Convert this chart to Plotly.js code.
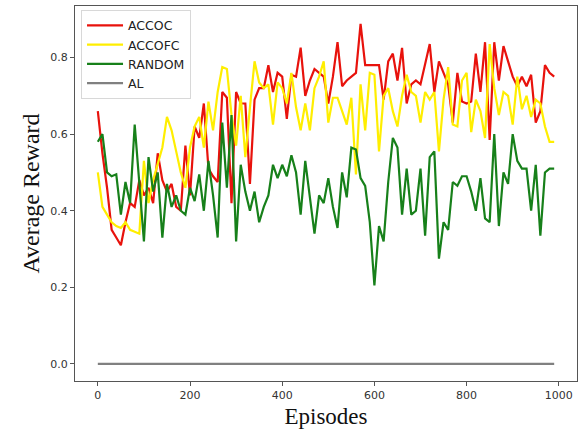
<!DOCTYPE html>
<html>
<head>
<meta charset="utf-8">
<script src="https://cdn.plot.ly/plotly-3.0.1.min.js"></script>
<style>html,body{margin:0;padding:0;background:#fff;}#chart{width:578px;height:433px;}</style>
</head>
<body>
<div id="chart"></div>
<script>
const episodes = Array.from({length: 100}, (_, i) => i * 10);

const accoc = [0.66,0.55,0.46,0.35,0.33,0.31,0.37,0.42,0.41,0.48,
0.44,0.46,0.42,0.55,0.48,0.45,0.47,0.41,0.40,0.57,
0.44,0.62,0.59,0.68,0.51,0.49,0.475,0.71,0.695,0.42,
0.71,0.68,0.68,0.47,0.69,0.72,0.72,0.78,0.71,0.76,
0.75,0.64,0.755,0.75,0.826,0.70,0.74,0.77,0.76,0.75,
0.68,0.75,0.84,0.725,0.74,0.75,0.76,0.888,0.78,0.78,
0.78,0.78,0.69,0.79,0.81,0.74,0.825,0.68,0.73,0.74,
0.73,0.78,0.835,0.71,0.79,0.76,0.73,0.63,0.76,0.685,
0.68,0.685,0.81,0.71,0.84,0.585,0.84,0.74,0.83,0.79,
0.75,0.725,0.75,0.725,0.755,0.63,0.66,0.78,0.76,0.75];

const accofc = [0.50,0.41,0.39,0.37,0.36,0.355,0.37,0.35,0.345,0.34,
0.53,0.42,0.48,0.52,0.565,0.645,0.61,0.555,0.50,0.46,
0.565,0.62,0.645,0.565,0.685,0.61,0.71,0.775,0.77,0.65,
0.57,0.70,0.54,0.67,0.79,0.735,0.72,0.73,0.625,0.735,
0.72,0.68,0.76,0.67,0.61,0.68,0.61,0.72,0.75,0.79,
0.63,0.695,0.695,0.66,0.625,0.695,0.495,0.73,0.61,0.76,
0.755,0.555,0.70,0.72,0.66,0.62,0.70,0.755,0.71,0.70,
0.63,0.71,0.69,0.71,0.555,0.69,0.775,0.625,0.62,0.74,
0.76,0.605,0.69,0.66,0.59,0.835,0.72,0.65,0.71,0.70,
0.625,0.75,0.665,0.70,0.645,0.69,0.68,0.62,0.58,0.58];

const random = [0.58,0.60,0.50,0.49,0.495,0.39,0.475,0.42,0.625,0.46,
0.32,0.54,0.45,0.50,0.33,0.47,0.41,0.44,0.40,0.39,
0.46,0.425,0.495,0.40,0.53,0.44,0.33,0.63,0.46,0.65,
0.32,0.52,0.45,0.40,0.45,0.37,0.41,0.44,0.52,0.485,
0.52,0.49,0.545,0.50,0.39,0.53,0.44,0.34,0.44,0.42,
0.485,0.41,0.355,0.50,0.435,0.565,0.56,0.485,0.465,0.37,
0.205,0.36,0.32,0.475,0.59,0.565,0.39,0.51,0.39,0.40,
0.51,0.335,0.54,0.555,0.275,0.37,0.35,0.475,0.465,0.49,
0.49,0.45,0.40,0.485,0.38,0.37,0.60,0.36,0.50,0.47,
0.60,0.53,0.51,0.51,0.40,0.52,0.335,0.50,0.51,0.51];

const al = episodes.map(() => 0.0);

const seriesNames = ["ACCOC", "ACCOFC", "RANDOM", "AL"];
const seriesColors = ["#e8120c", "#ffee00", "#17801a", "#808080"];
const seriesValues = [accoc, accofc, random, al];

const xTicks = [0, 200, 400, 600, 800, 1000];
const yTicks = [0.0, 0.2, 0.4, 0.6, 0.8];

const traces = seriesNames.map((name, i) => ({
  x: episodes,
  y: seriesValues[i],
  name: name,
  type: "scatter",
  mode: "lines",
  line: {color: seriesColors[i], width: 2.2}
}));

const axisCommon = {
  showline: true, mirror: true, linecolor: "#555", linewidth: 1,
  ticks: "outside", ticklen: 4, tickcolor: "#555", tickwidth: 1,
  showgrid: false, zeroline: false,
  tickfont: {family: "DejaVu Sans", size: 11, color: "#333"}
};

const layout = {
  width: 578, height: 433,
  margin: {l: 75, r: 1, t: 6, b: 52},
  paper_bgcolor: "#fff", plot_bgcolor: "#fff",
  showlegend: true,
  legend: {
    x: 0.012, y: 0.99, xanchor: "left", yanchor: "top",
    bgcolor: "rgba(255,255,255,0.8)", bordercolor: "#d8d8d8", borderwidth: 1,
    font: {family: "DejaVu Sans", size: 12.5, color: "#222"},
    tracegroupgap: 0, itemwidth: 36
  },
  xaxis: Object.assign({}, axisCommon, {
    range: [-49.5, 1039.5], tickvals: xTicks,
    title: {text: "Episodes", font: {family: "Liberation Serif", size: 23, color: "#111"}, standoff: 6}
  }),
  yaxis: Object.assign({}, axisCommon, {
    range: [-0.0445, 0.9345], tickvals: yTicks, tickformat: ".1f",
    title: {text: "Average Reward", font: {family: "Liberation Serif", size: 24, color: "#111"}, standoff: 3}
  })
};

Plotly.newPlot("chart", traces, layout, {displayModeBar: false, staticPlot: true});
</script>
</body>
</html>
